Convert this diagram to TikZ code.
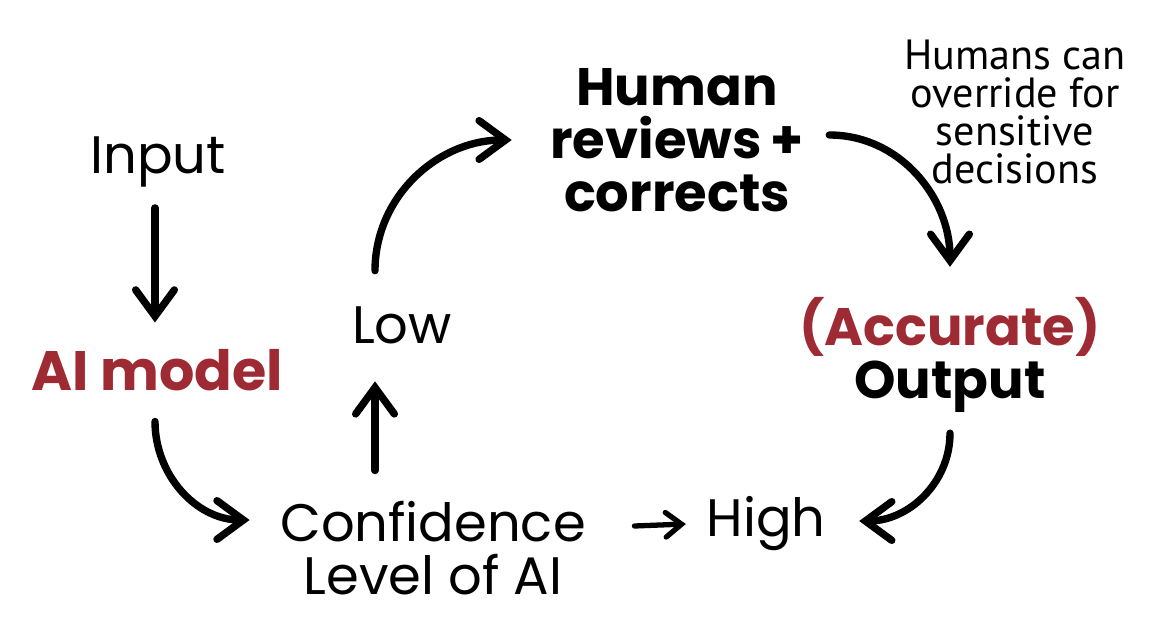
\documentclass[tikz,border=0pt]{standalone}
\usepackage{fontspec}
\setmainfont{Poppins}
\newfontfamily\notefont{PT Sans}
\usetikzlibrary{arrows.meta,calc,positioning}
\definecolor{aired}{RGB}{158,42,52}

\begin{document}
\begin{tikzpicture}[x=0.01cm, y=-0.01cm]
    \tikzset{
        txt/.style={inner sep=0pt, align=center, font=\fontsize{15}{15}\selectfont},
        boldtxt/.style={txt, font=\fontsize{15}{15}\selectfont\bfseries},
        redtxt/.style={boldtxt, text=aired, font=\fontsize{15.8}{15}\selectfont\bfseries},
        notetxt/.style={inner sep=0pt, align=center, font=\notefont\fontsize{12}{10.8}\selectfont},
        flow/.style={-{Straight Barb[length=7.5pt, width=11pt, line width=2.1pt, line cap=round]}, line width=2.1pt, line cap=round},
        thinflow/.style={-{Straight Barb[length=4.5pt, width=7pt, line width=1.5pt, line cap=round]}, line width=1.5pt, line cap=round}
    }
    \useasboundingbox (0,0) rectangle (1170,634);

    % labels
    \node[txt] (input) at (158,162) {Input};
    \node[redtxt] (model) at (157,370) {AI model};
    \node[txt] (low) at (402,325) {Low};
    \node[txt] (conf) at (433,548) {Confidence\\Level of AI};
    \node[txt] (high) at (766,524) {High};
    \node[boldtxt] (human) at (677,140) {Human\\reviews\,+\\corrects};
    \node[boldtxt] (output) at (950,355) {\textcolor{aired}{(Accurate)}\\Output};
    \node[notetxt] (note) at (1015,112) {Humans can\\override for\\sensitive\\decisions};

    % connectors
    \draw[flow] ($(input.south)+(-3,20)$) -- ($(model.north)+(-2,-26)$);
    \draw[flow] ($(model.south)+(-2,30)$) to[out=-90, in=180] ($(conf.west)+(-30,-28)$);
    \draw[flow] ($(conf.north)+(-58,-30)$) -- ($(low.south)+(-27,37)$);
    \draw[flow] ($(low.north)+(-27,-35)$) to[out=90, in=180] ($(human.west)+(-38,0)$);
    \draw[flow] ($(human.east)+(25,-5)$) to[out=0, in=90] ($(output.north)+(0,-30)$);
    \draw[flow] ($(output.south)+(0,20)$) to[out=-90, in=0] ($(high.east)+(33,-3)$);
    \draw[thinflow] ($(conf.east)+(48,-22)$) -- ($(high.west)+(-20,0)$);
\end{tikzpicture}
\end{document}
